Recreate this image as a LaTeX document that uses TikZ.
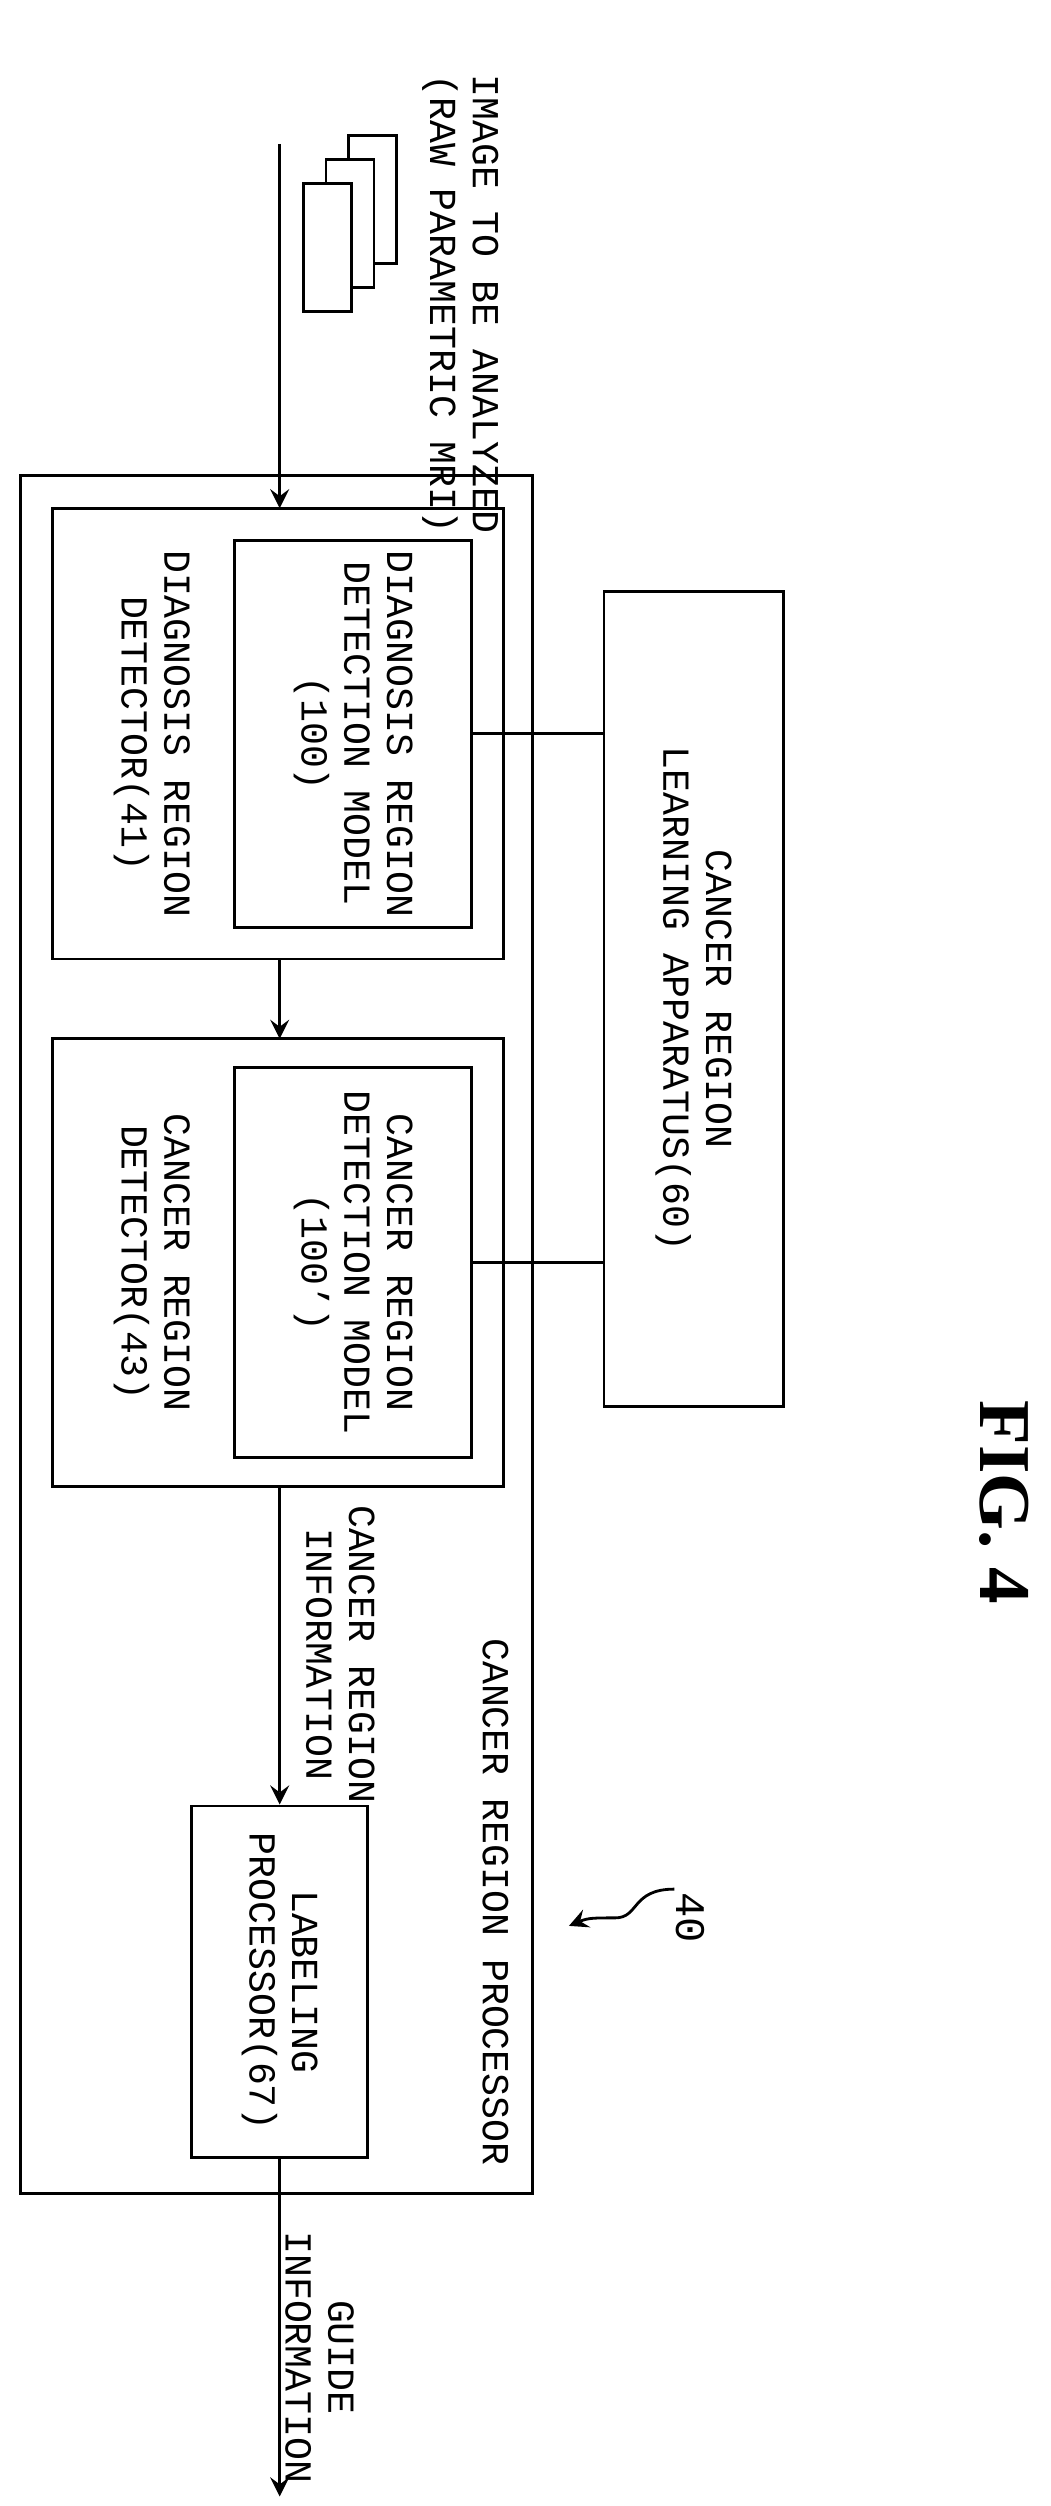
\documentclass[tikz,border=0pt]{standalone}
\usepackage{fontspec}
\setmainfont{Liberation Mono}
\usetikzlibrary{decorations.pathmorphing}
\begin{document}
\begin{tikzpicture}[x=0.01cm,y=-0.01cm,line width=0.5pt,
	box/.style={draw,inner sep=0pt},
	lbl/.style={rotate=-90,align=center,font=\fontsize{6.8}{7.6}\selectfont,inner sep=0pt},
	flow/.style={->,>=stealth}]
		\useasboundingbox (0,0) rectangle (657,1568);
		%boxes
		\node[box,minimum width=3.20cm,minimum height=10.74cm] (proc) at (173,835) {};
		\node[box,minimum width=2.82cm,minimum height=2.82cm] (det41) at (174,459) {};
		\node[box,minimum width=1.48cm,minimum height=2.42cm] (mod100) at (221,459) {};
		\node[box,minimum width=2.82cm,minimum height=2.80cm] (det43) at (174,790) {};
		\node[box,minimum width=1.48cm,minimum height=2.44cm] (mod100b) at (221,790) {};
		\node[box,minimum width=1.12cm,minimum height=5.10cm] (learn) at (434,625) {};
		\node[box,minimum width=1.10cm,minimum height=2.20cm] (label) at (175,1240) {};
		%documents
		\draw[fill=white] (218,85) rectangle (248,165);
		\draw[fill=white] (204,100) rectangle (234,180);
		\draw[fill=white] (190,115) rectangle (220,195);
		%labels
		\node[lbl] (img) at (288,190) {IMAGE TO BE ANALYZED\\(RAW PARAMETRIC MRI)};
		\node[lbl] at (95,459) {DIAGNOSIS REGION\\DETECTOR(41)};
		\node[lbl] at (mod100) {DIAGNOSIS REGION\\DETECTION MODEL\\(100)};
		\node[lbl] at (95,790) {CANCER REGION\\DETECTOR(43)};
		\node[lbl] at (mod100b) {CANCER REGION\\DETECTION MODEL\\(100')};
		\node[lbl] at (learn) {CANCER REGION\\LEARNING APPARATUS(60)};
		\node[lbl] at (label) {LABELING\\PROCESSOR(67)};
		\node[lbl] (info) at (213,1035) {CANCER REGION\\INFORMATION};
		\node[lbl] (pname) at (310,1190) {CANCER REGION PROCESSOR};
		\node[lbl] (guide) at (200,1475) {GUIDE\\INFORMATION};
		\node[lbl,font=\fontsize{7.5}{8}\selectfont] (num) at (432,1200) {40};
		\node[rotate=-90,font=\fontspec{Liberation Serif}\bfseries\fontsize{13}{14}\selectfont] (fig) at (628,940) {FIG. 4};
		%connectors
		\coordinate (in) at (175,90);
		\coordinate (out) at (175,1562);
		\draw[flow] (in) -- (175,318);
		\draw[flow] (175,600) -- (175,650);
		\draw[flow] (175,930) -- (label.north);
		\draw[flow] (label.south) -- (out);
		\draw (mod100.east) -- (learn.west |- mod100.east);
		\draw (mod100b.east) -- (learn.west |- mod100b.east);
		\draw[flow] (422,1182) .. controls (395,1182) and (400,1200) .. (385,1200) .. controls (372,1200) and (368,1200) .. (356,1205);
\end{tikzpicture}
\end{document}
